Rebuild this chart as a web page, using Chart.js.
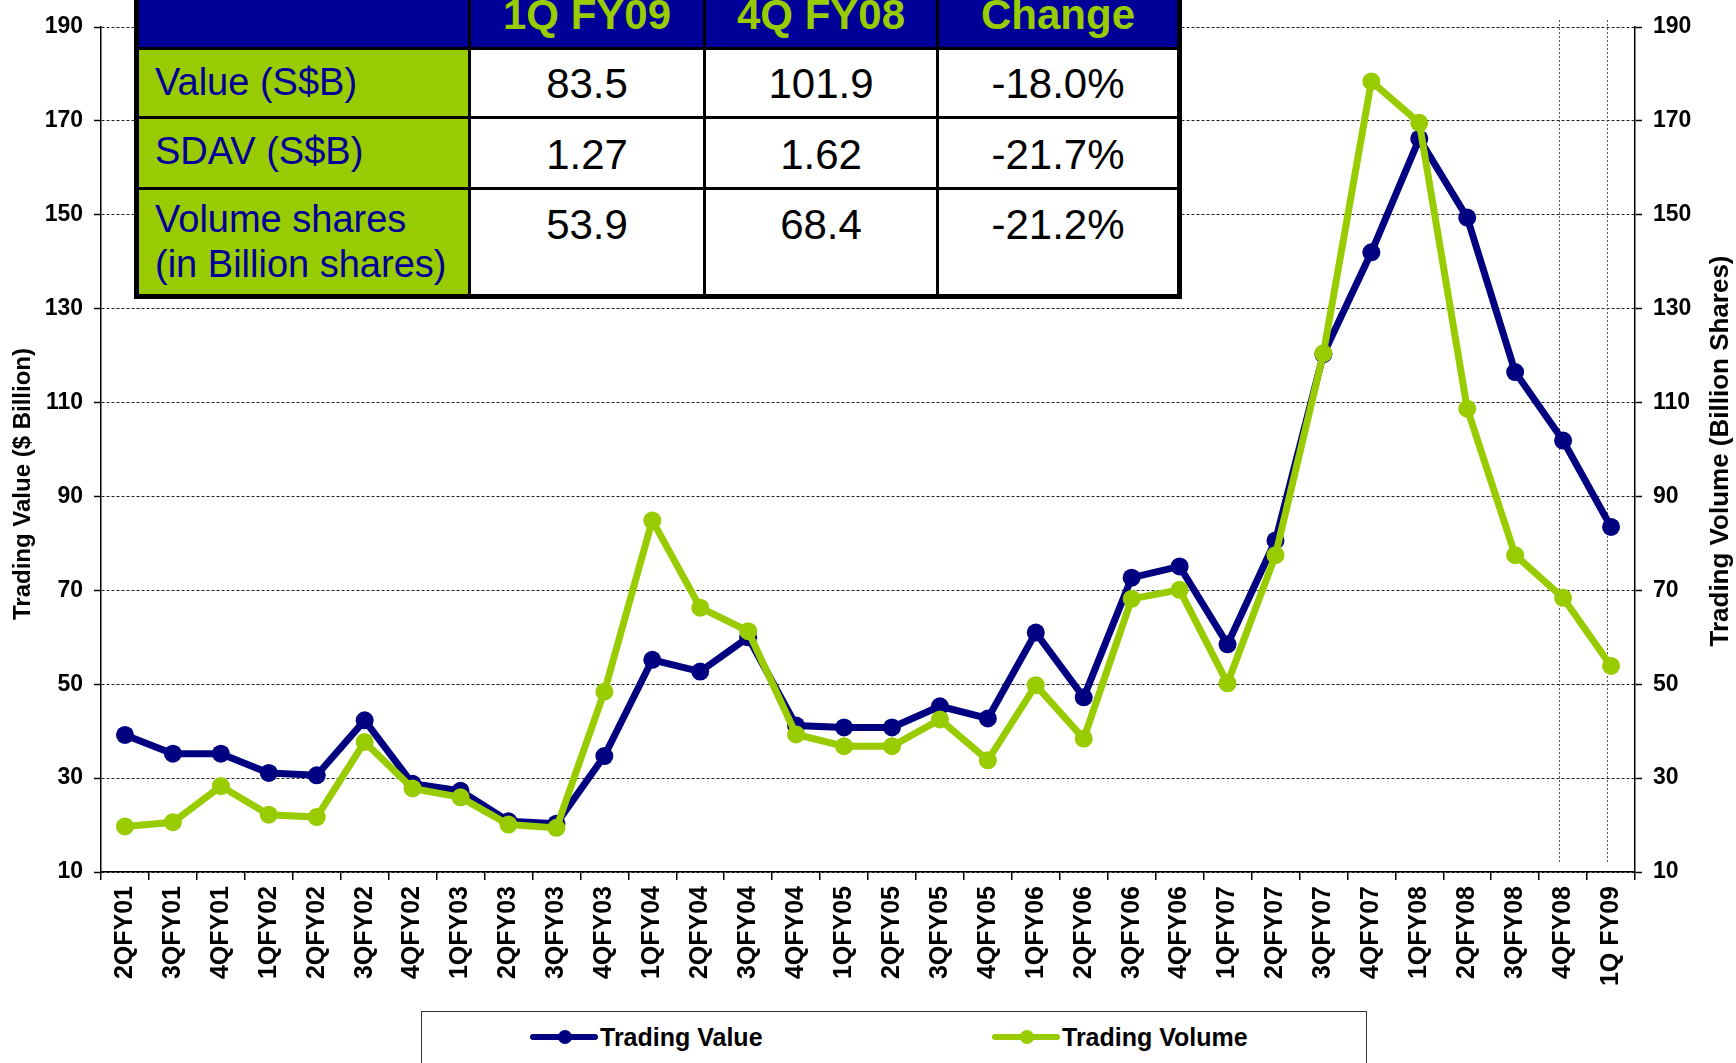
<!DOCTYPE html>
<html>
<head>
<meta charset="utf-8">
<script src="https://cdn.jsdelivr.net/npm/chart.js@4.4.1/dist/chart.umd.min.js"></script>
<style>
  html, body { margin: 0; padding: 0; background: #fff; }
  body { width: 1736px; height: 1063px; position: relative; overflow: hidden; font-family: Arial, "Liberation Sans", sans-serif; }
  #chart { position: absolute; left: 0; top: 0; }
  #summary { position: absolute; left: 134px; top: -30px; width: 1048px; height: 329px; background: #000; }
  #summary div { position: absolute; box-sizing: border-box; white-space: nowrap; }
  .hd { background: #000099; color: #99cc00; font-weight: bold; font-size: 42px; line-height: 42px; text-align: center; padding-top: 24px; }
  .lb { background: #99cc00; color: #000099; font-size: 38px; line-height: 45px; padding-left: 16px; }
  .nm { background: #fff; color: #000; font-size: 42px; line-height: 42px; text-align: center; }
  #legend { position: absolute; left: 421px; top: 1011px; width: 946px; height: 80px; border: 1.5px solid #333; box-sizing: border-box; background: #fff; }
  .item { position: absolute; top: 12px; height: 26px; font-weight: bold; font-size: 25px; line-height: 26px; color: #000; }
  .item span.mk { position: absolute; top: 10px; width: 68px; height: 6px; border-radius: 3px; }
  .item span.mk i { position: absolute; left: 28px; top: -4px; width: 14px; height: 14px; border-radius: 7px; }
</style>
</head>
<body>
<canvas id="chart" width="1736" height="1063"></canvas>

<div id="summary">
  <div class="hd" style="left:5px;top:0;width:329px;height:77px;"></div>
  <div class="hd" style="left:337px;top:0;width:232px;height:77px;">1Q FY09</div>
  <div class="hd" style="left:572px;top:0;width:230px;height:77px;">4Q FY08</div>
  <div class="hd" style="left:805px;top:0;width:238px;height:77px;">Change</div>

  <div class="lb" style="left:5px;top:80px;width:329px;height:66px;padding-top:12px;line-height:40px;">Value (S$B)</div>
  <div class="nm" style="left:337px;top:80px;width:232px;height:66px;padding-top:13px;">83.5</div>
  <div class="nm" style="left:572px;top:80px;width:230px;height:66px;padding-top:13px;">101.9</div>
  <div class="nm" style="left:805px;top:80px;width:238px;height:66px;padding-top:13px;">-18.0%</div>

  <div class="lb" style="left:5px;top:149px;width:329px;height:68px;padding-top:12px;line-height:40px;">SDAV (S$B)</div>
  <div class="nm" style="left:337px;top:149px;width:232px;height:68px;padding-top:15px;">1.27</div>
  <div class="nm" style="left:572px;top:149px;width:230px;height:68px;padding-top:15px;">1.62</div>
  <div class="nm" style="left:805px;top:149px;width:238px;height:68px;padding-top:15px;">-21.7%</div>

  <div class="lb" style="left:5px;top:220px;width:329px;height:104px;padding-top:7px;">Volume shares<br>(in Billion shares)</div>
  <div class="nm" style="left:337px;top:220px;width:232px;height:104px;padding-top:14px;">53.9</div>
  <div class="nm" style="left:572px;top:220px;width:230px;height:104px;padding-top:14px;">68.4</div>
  <div class="nm" style="left:805px;top:220px;width:238px;height:104px;padding-top:14px;">-21.2%</div>
</div>

<div id="legend"></div>

<script>
const quarters = [
    '2QFY01', '3QFY01', '4QFY01',
    '1QFY02', '2QFY02', '3QFY02', '4QFY02',
    '1QFY03', '2QFY03', '3QFY03', '4QFY03',
    '1QFY04', '2QFY04', '3QFY04', '4QFY04',
    '1QFY05', '2QFY05', '3QFY05', '4QFY05',
    '1QFY06', '2QFY06', '3QFY06', '4QFY06',
    '1QFY07', '2QFY07', '3QFY07', '4QFY07',
    '1QFY08', '2QFY08', '3QFY08', '4QFY08',
    '1Q FY09'
];

// Trading value, $ billion (left axis)
const tradingValue = [
    39.2, 35.2, 35.2,
    31.1, 30.6, 42.3, 28.8,
    27.3, 20.8, 20.3, 34.7,
    55.2, 52.7, 60.0, 41.2,
    40.8, 40.8, 45.3, 42.7,
    61.0, 47.2, 72.7, 75.1,
    58.5, 80.6, 120.3, 142.0,
    166.2, 149.4, 116.5, 101.9,
    83.5
];

// Trading volume, billion shares (right axis)
const tradingVolume = [
    19.7, 20.6, 28.3,
    22.2, 21.7, 37.7, 27.8,
    25.9, 20.1, 19.4, 48.4,
    84.9, 66.3, 61.3, 39.3,
    36.8, 36.8, 42.5, 33.8,
    49.8, 38.4, 68.2, 70.1,
    50.2, 77.5, 120.5, 178.4,
    169.6, 108.7, 77.5, 68.4,
    53.9
];

const axisTicks = [10, 30, 50, 70, 90, 110, 130, 150, 170, 190];

// quarters that get a dotted vertical marker
const markedQuarters = ['4QFY08', '1Q FY09'];

const BLUE = '#000080';
const GREEN = '#99cc00';

Chart.defaults.font.family = 'Arial, "Liberation Sans", sans-serif';
Chart.defaults.color = '#000';

const setTicks = scale => {
    scale.ticks = axisTicks.map(v => ({ value: v }));
};

// dotted vertical lines at the latest quarters
const quarterMarkers = {
    id: 'quarterMarkers',
    beforeDatasetsDraw(chart) {
        const { ctx, chartArea, scales } = chart;
        ctx.save();
        ctx.strokeStyle = '#555';
        ctx.lineWidth = 1;
        ctx.setLineDash([2, 2]);
        markedQuarters.forEach(q => {
            const px = Math.round(scales.x.getPixelForValue(quarters.indexOf(q))) - 3.5;
            ctx.beginPath();
            ctx.moveTo(px, chartArea.top - 7);
            ctx.lineTo(px, chartArea.bottom - 8);
            ctx.stroke();
        });
        ctx.restore();
    }
};

// both axis titles read bottom-to-top
const axisTitles = {
    id: 'axisTitles',
    afterDraw(chart) {
        const ctx = chart.ctx;
        ctx.save();
        ctx.fillStyle = '#000';
        ctx.textAlign = 'center';
        ctx.textBaseline = 'middle';
        [[23, 484, 24, 'Trading Value ($ Billion)'], [1721, 451, 26, 'Trading Volume (Billion Shares)']].forEach(([x, y, size, text]) => {
            ctx.save();
            ctx.font = 'bold ' + size + 'px Arial, "Liberation Sans", sans-serif';
            ctx.translate(x, y);
            ctx.rotate(-Math.PI / 2);
            ctx.fillText(text, 0, 0);
            ctx.restore();
        });
        ctx.restore();
    }
};

const ctx = document.getElementById('chart').getContext('2d');
const chart = new Chart(ctx, {
    type: 'line',
    data: {
        labels: quarters,
        datasets: [
            {
                label: 'Trading Value',
                data: tradingValue,
                yAxisID: 'y',
                borderColor: BLUE,
                backgroundColor: BLUE,
                pointBackgroundColor: BLUE,
                borderWidth: 7,
                pointRadius: 9,
                pointBorderWidth: 0,
                tension: 0,
                order: 1
            },
            {
                label: 'Trading Volume',
                data: tradingVolume,
                yAxisID: 'y1',
                borderColor: GREEN,
                backgroundColor: GREEN,
                pointBackgroundColor: GREEN,
                borderWidth: 7,
                pointRadius: 9,
                pointBorderWidth: 0,
                tension: 0,
                order: 0
            }
        ]
    },
    options: {
        responsive: false,
        animation: false,
        devicePixelRatio: 1,
        layout: { padding: { top: 27, left: 0, right: 0, bottom: 0 } },
        plugins: {
            legend: { display: false },
            tooltip: { enabled: false }
        },
        scales: {
            x: {
                offset: true,
                grid: { offset: true, drawOnChartArea: false, drawTicks: true, tickLength: 8, color: '#000', lineWidth: 1.5 },
                border: { display: true, color: '#000', width: 1.5 },
                ticks: {
                    autoSkip: false,
                    minRotation: 90,
                    maxRotation: 90,
                    padding: 6,
                    font: { size: 25, weight: 'bold' }
                },
                afterFit: s => { s.height = 191; }
            },
            y: {
                position: 'left',
                min: axisTicks[0],
                max: axisTicks[axisTicks.length - 1],
                afterBuildTicks: setTicks,
                grid: { color: '#222', lineWidth: 1, tickLength: 7, tickColor: '#000', tickWidth: 1.5 },
                border: { display: true, color: '#000', width: 1.5, dash: [3, 2] },
                ticks: { padding: 11, font: { size: 23, weight: 'bold' } },
                afterFit: s => { s.width = 101; }
            },
            y1: {
                position: 'right',
                min: axisTicks[0],
                max: axisTicks[axisTicks.length - 1],
                afterBuildTicks: setTicks,
                grid: { drawOnChartArea: false, tickLength: 7, tickColor: '#000', tickWidth: 1.5 },
                border: { display: true, color: '#000', width: 1.5 },
                ticks: { padding: 11, font: { size: 23, weight: 'bold' } },
                afterFit: s => { s.width = 101; }
            }
        }
    },
    plugins: [quarterMarkers, axisTitles]
});

// legend box built from the datasets
const legend = document.getElementById('legend');
const legendX = [108, 570];
chart.data.datasets.forEach((ds, i) => {
    const item = document.createElement('div');
    item.className = 'item';
    item.style.left = legendX[i] + 'px';
    item.style.paddingLeft = '70px';
    item.innerHTML = '<span class="mk" style="left:0;background:' + ds.borderColor + '"><i style="background:' + ds.borderColor + '"></i></span>' + ds.label;
    legend.appendChild(item);
});
</script>
</body>
</html>
